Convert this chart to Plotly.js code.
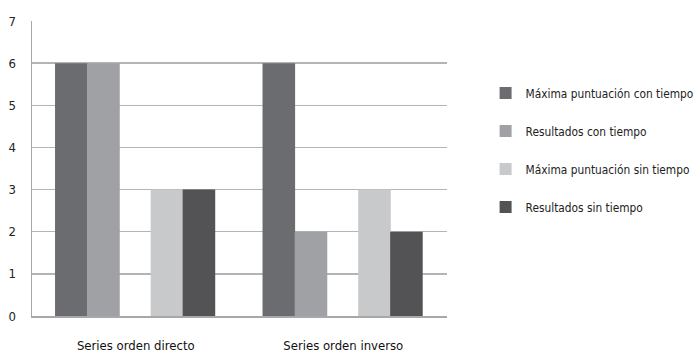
<!DOCTYPE html>
<html>
<head>
<meta charset="utf-8">
<script src="https://cdn.plot.ly/plotly-3.0.1.min.js"></script>
<style>html,body{margin:0;padding:0;background:#fff;}#chart{width:696px;height:355px;}</style>
</head>
<body>
<div id="chart"></div>
<script>
var categories = ["Series orden directo", "Series orden inverso"];
var seriesNames = ["Máxima puntuación con tiempo", "Resultados con tiempo", "Máxima puntuación sin tiempo", "Resultados sin tiempo"];
var maxConTiempo = [6, 6];
var resConTiempo = [6, 2];
var maxSinTiempo = [3, 3];
var resSinTiempo = [3, 2];
var yTicks = [0, 1, 2, 3, 4, 5, 6, 7];

var values = [maxConTiempo, resConTiempo, maxSinTiempo, resSinTiempo];
var colors = ["#6b6c70", "#a0a1a5", "#c8c9cb", "#535355"];
var barW = 0.157;
var offsets = [-0.389, -0.234, 0.072, 0.226];
var FONT = '"DejaVu Sans Condensed", "Liberation Sans Narrow", sans-serif';

var traces = values.map(function (v, i) {
  return {
    type: "bar",
    name: seriesNames[i],
    x: categories,
    y: v,
    width: barW,
    offset: offsets[i],
    marker: {color: colors[i], line: {width: 0}},
    legendgroup: "g" + i,
    hoverinfo: "none"
  };
});

var layout = {
  width: 696,
  height: 355,
  margin: {l: 32, r: 249, t: 21, b: 39, autoexpand: false},
  paper_bgcolor: "#fff",
  plot_bgcolor: "#fff",
  font: {family: FONT, color: "#222", size: 13},
  barmode: "overlay",
  showlegend: true,
  legend: {
    x: 1.093, xanchor: "left",
    y: 0.805, yanchor: "top",
    traceorder: "grouped",
    tracegroupgap: 19,
    font: {family: FONT, size: 11.8, color: "#222"},
    bgcolor: "rgba(0,0,0,0)"
  },
  xaxis: {
    type: "category",
    showgrid: false,
    showline: true,
    linecolor: "#a8a8a8",
    linewidth: 1.5,
    ticks: "",
    ticklabelstandoff: 17,
    tickfont: {family: FONT, size: 13, color: "#111"},
    range: [-0.5, 1.5],
    fixedrange: true
  },
  yaxis: {
    range: [0, 7],
    tickvals: yTicks,
    showgrid: true,
    gridcolor: "#b4b4b4",
    gridwidth: 1.5,
    showline: true,
    linecolor: "#a8a8a8",
    linewidth: 1.5,
    zeroline: false,
    ticks: "",
    ticklabelstandoff: 12,
    tickfont: {family: FONT, size: 13, color: "#222"},
    fixedrange: true
  }
};

Plotly.newPlot("chart", traces, layout, {displayModeBar: false, staticPlot: true});
</script>
</body>
</html>
